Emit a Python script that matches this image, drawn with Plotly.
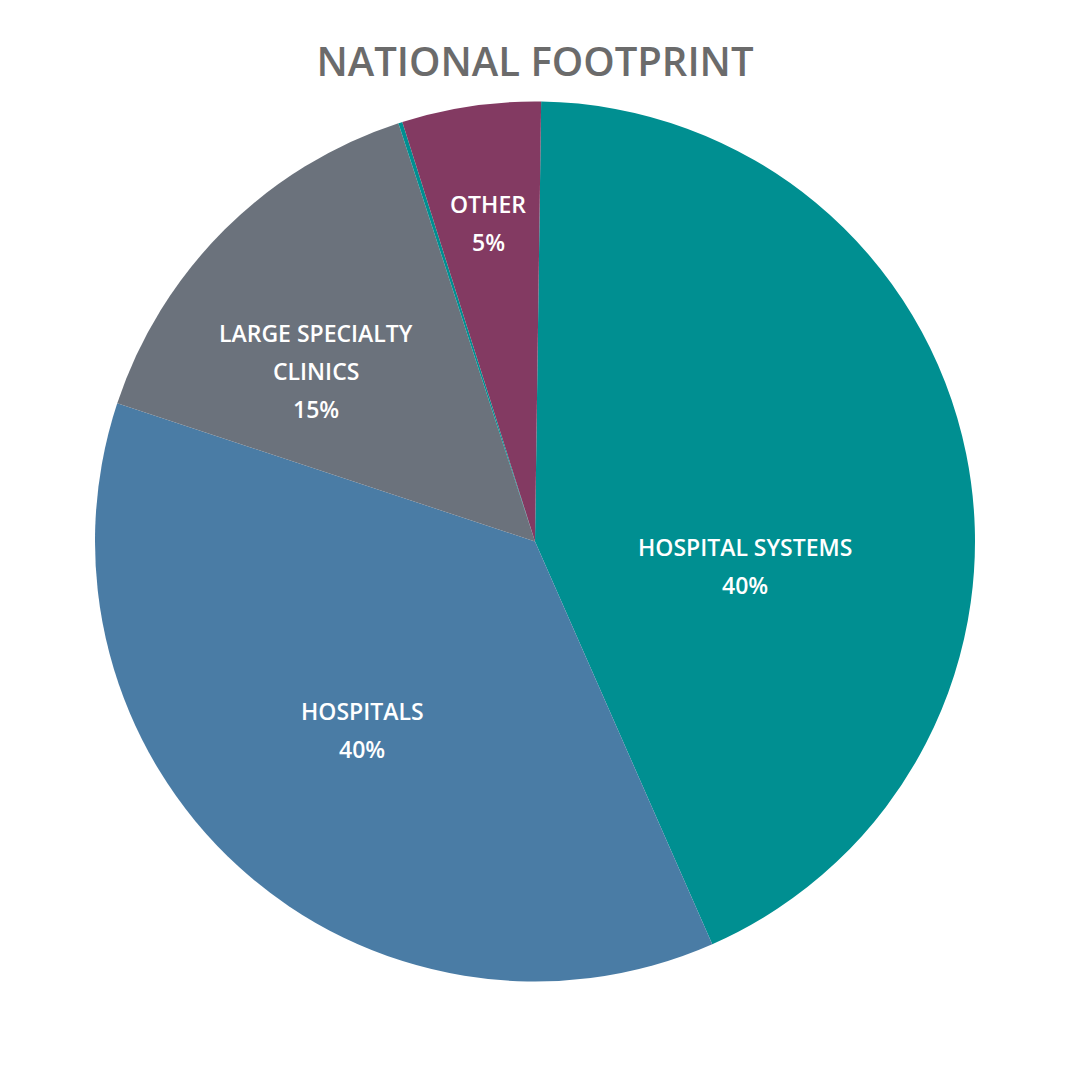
import plotly.graph_objects as go

# Slice data (clockwise from 12 o'clock),
# the printed percentages are kept separately
segments = ['HOSPITAL SYSTEMS', 'HOSPITALS', 'LARGE SPECIALTY CLINICS', 'SLIVER', 'OTHER']
values = [43.2, 36.7, 14.9, 0.15, 5.1]
shown_pct = ['40%', '40%', '15%', '', '5%']
colors = ['#008f91', '#4a7ca5', '#6b727c', '#008f91', '#833a62']

# label lines as printed in the picture
label_lines = [
    ['HOSPITAL SYSTEMS', '40%'],
    ['HOSPITALS', '40%'],
    ['LARGE SPECIALTY', 'CLINICS', '15%'],
    [],
    ['OTHER', '5%'],
]
# screen position (px) of first line centre for each label
label_pos = [(745, 547), (362, 711), (316, 333), None, (488, 204)]
LINE_GAP = 38
OFF = 8  # page body margin


def px(x, y):
    return (x - OFF) / 1080, 1 - (y - OFF) / 1080


fig = go.Figure()
fig.add_trace(go.Pie(
    labels=segments,
    values=values,
    textinfo='none',
    sort=False,
    direction='clockwise',
    rotation=0.8,
    marker=dict(colors=colors, line=dict(width=0)),
    hoverinfo='label+percent',
    showlegend=False,
    domain=dict(x=[(95 - OFF) / 1080, (975 - OFF) / 1080],
                y=[1 - (985 - OFF) / 1080, 1 - (98 - OFF) / 1080]),
))

for lines, pos in zip(label_lines, label_pos):
    if pos is None:
        continue
    for i, line in enumerate(lines):
        ax, ay = px(pos[0], pos[1] + i * LINE_GAP)
        fig.add_annotation(x=ax, y=ay, xref='paper', yref='paper',
                           text=line, showarrow=False,
                           xanchor='center', yanchor='middle',
                           font=dict(family='Open Sans', size=23,
                                     color='white', weight=600))

tx, ty = px(535, 62)
fig.update_layout(
    width=1080,
    height=1080,
    margin=dict(l=0, r=0, t=0, b=0),
    paper_bgcolor='white',
    plot_bgcolor='white',
    title=dict(text='NATIONAL FOOTPRINT', x=tx, xanchor='center',
               y=ty, yanchor='middle',
               font=dict(family='Open Sans', size=40, color='#6b6b6b',
                         weight=600)),
)

fig.write_html("out.html")
